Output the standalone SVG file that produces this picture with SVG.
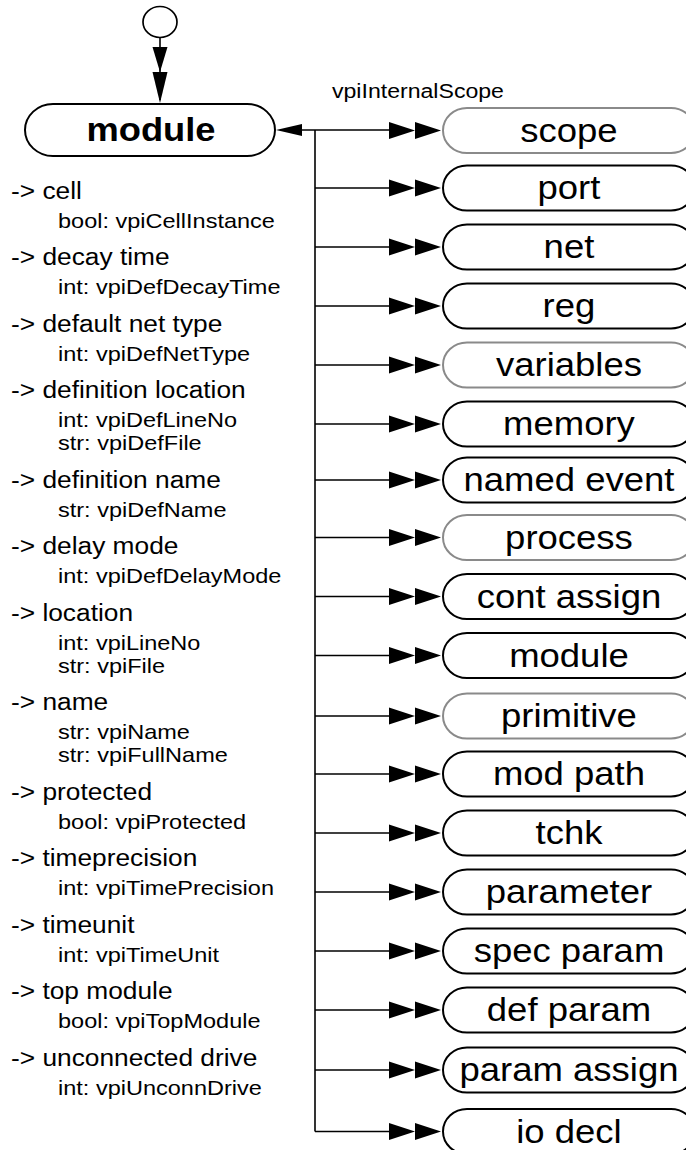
<svg xmlns="http://www.w3.org/2000/svg" width="686" height="1150" viewBox="0 0 686 1150">
<style>
  .box{fill:#fff;stroke:#000;stroke-width:2}
  .gray{stroke:#8a8a8a}
  .nt{font-family:"Liberation Sans",Arial,sans-serif;font-size:33.5px;text-anchor:middle;fill:#000}
  .mt{font-family:"Liberation Sans",Arial,sans-serif;font-size:33px;font-weight:bold;text-anchor:middle;fill:#000}
  .a{font-family:"Liberation Sans",Arial,sans-serif;font-size:23.5px;fill:#000}
  .s{font-family:"Liberation Sans",Arial,sans-serif;font-size:21px;fill:#000}
  .ln{fill:none;stroke:#000;stroke-width:1.6}
  .ah{fill:#000;stroke:none}
</style>
<defs>
  <g id="dbl">
    <polygon points="-54,-8.5 -28,0 -54,8.5"/>
    <polygon points="-28,-8.5 -2,0 -28,8.5"/>
  </g>
</defs>

<g id="start">
  <ellipse cx="160" cy="22" rx="17" ry="15.5" fill="#fff" stroke="#000" stroke-width="1.7"/>
</g>

<g id="connectors">
  <line class="ln" x1="160" y1="37.5" x2="160" y2="100"/>
  <polygon class="ah" points="152.5,47 167.5,47 160,72"/>
  <polygon class="ah" points="152.5,72 167.5,72 160,103"/>
  <polygon class="ah" points="276,130 302,124 302,136"/>
  <polyline class="ln" points="302,130 392,130"/>
  <line class="ln" x1="315" y1="130" x2="315" y2="1131.5"/>
  <g class="ah">
    <use href="#dbl" x="443" y="130.5"/>
    <use href="#dbl" x="443" y="188"/>
    <use href="#dbl" x="443" y="247"/>
    <use href="#dbl" x="443" y="306"/>
    <use href="#dbl" x="443" y="365"/>
    <use href="#dbl" x="443" y="424"/>
    <use href="#dbl" x="443" y="480"/>
    <use href="#dbl" x="443" y="537.5"/>
    <use href="#dbl" x="443" y="596.5"/>
    <use href="#dbl" x="443" y="655.5"/>
    <use href="#dbl" x="443" y="716"/>
    <use href="#dbl" x="443" y="774"/>
    <use href="#dbl" x="443" y="833"/>
    <use href="#dbl" x="443" y="892"/>
    <use href="#dbl" x="443" y="951"/>
    <use href="#dbl" x="443" y="1010"/>
    <use href="#dbl" x="443" y="1070"/>
    <use href="#dbl" x="443" y="1131.5"/>
  </g>
  <g class="ln">
    <line x1="315" y1="188" x2="392" y2="188"/>
    <line x1="315" y1="247" x2="392" y2="247"/>
    <line x1="315" y1="306" x2="392" y2="306"/>
    <line x1="315" y1="365" x2="392" y2="365"/>
    <line x1="315" y1="424" x2="392" y2="424"/>
    <line x1="315" y1="480" x2="392" y2="480"/>
    <line x1="315" y1="537.5" x2="392" y2="537.5"/>
    <line x1="315" y1="596.5" x2="392" y2="596.5"/>
    <line x1="315" y1="655.5" x2="392" y2="655.5"/>
    <line x1="315" y1="716" x2="392" y2="716"/>
    <line x1="315" y1="774" x2="392" y2="774"/>
    <line x1="315" y1="833" x2="392" y2="833"/>
    <line x1="315" y1="892" x2="392" y2="892"/>
    <line x1="315" y1="951" x2="392" y2="951"/>
    <line x1="315" y1="1010" x2="392" y2="1010"/>
    <line x1="315" y1="1070" x2="392" y2="1070"/>
    <line x1="315" y1="1131.5" x2="392" y2="1131.5"/>
  </g>
  <text class="s" transform="scale(1.1,1)" x="301.8" y="98">vpiInternalScope</text>
</g>

<g id="module-main">
  <rect class="box" x="25" y="104" width="250" height="52" rx="28" ry="26"/>
  <text class="mt" transform="scale(1.1,1)" x="137.3" y="141.5">module</text>
</g>

<g id="module-attrs" transform="scale(1.12,1)">
  <text class="a" x="9.8" y="199">-&gt; cell</text>
  <text class="s" x="51.8" y="228">bool: vpiCellInstance</text>
  <text class="a" x="9.8" y="265.5">-&gt; decay time</text>
  <text class="s" x="51.8" y="294.5">int: vpiDefDecayTime</text>
  <text class="a" x="9.8" y="332">-&gt; default net type</text>
  <text class="s" x="51.8" y="361">int: vpiDefNetType</text>
  <text class="a" x="9.8" y="398.5">-&gt; definition location</text>
  <text class="s" x="51.8" y="427.5">int: vpiDefLineNo</text>
  <text class="s" x="51.8" y="450.5">str: vpiDefFile</text>
  <text class="a" x="9.8" y="488">-&gt; definition name</text>
  <text class="s" x="51.8" y="517">str: vpiDefName</text>
  <text class="a" x="9.8" y="554.5">-&gt; delay mode</text>
  <text class="s" x="51.8" y="583.5">int: vpiDefDelayMode</text>
  <text class="a" x="9.8" y="621">-&gt; location</text>
  <text class="s" x="51.8" y="650">int: vpiLineNo</text>
  <text class="s" x="51.8" y="673">str: vpiFile</text>
  <text class="a" x="9.8" y="710.5">-&gt; name</text>
  <text class="s" x="51.8" y="739.5">str: vpiName</text>
  <text class="s" x="51.8" y="762.5">str: vpiFullName</text>
  <text class="a" x="9.8" y="800">-&gt; protected</text>
  <text class="s" x="51.8" y="829">bool: vpiProtected</text>
  <text class="a" x="9.8" y="866.5">-&gt; timeprecision</text>
  <text class="s" x="51.8" y="895.5">int: vpiTimePrecision</text>
  <text class="a" x="9.8" y="933">-&gt; timeunit</text>
  <text class="s" x="51.8" y="962">int: vpiTimeUnit</text>
  <text class="a" x="9.8" y="999.5">-&gt; top module</text>
  <text class="s" x="51.8" y="1028.5">bool: vpiTopModule</text>
  <text class="a" x="9.8" y="1066">-&gt; unconnected drive</text>
  <text class="s" x="51.8" y="1095">int: vpiUnconnDrive</text>
</g>

<g id="scope"><rect class="box gray" x="443" y="108" width="252" height="45" rx="24" ry="22.5"/><text class="nt" transform="scale(1.09,1)" x="522" y="142">scope</text></g>
<g id="port"><rect class="box" x="443" y="165.5" width="252" height="45" rx="24" ry="22.5"/><text class="nt" transform="scale(1.09,1)" x="522" y="199.5">port</text></g>
<g id="net"><rect class="box" x="443" y="224.5" width="252" height="45" rx="24" ry="22.5"/><text class="nt" transform="scale(1.09,1)" x="522" y="258.5">net</text></g>
<g id="reg"><rect class="box" x="443" y="283.5" width="252" height="45" rx="24" ry="22.5"/><text class="nt" transform="scale(1.09,1)" x="522" y="317.5">reg</text></g>
<g id="variables"><rect class="box gray" x="443" y="342.5" width="252" height="45" rx="24" ry="22.5"/><text class="nt" transform="scale(1.09,1)" x="522" y="376.5">variables</text></g>
<g id="memory"><rect class="box" x="443" y="401.5" width="252" height="45" rx="24" ry="22.5"/><text class="nt" transform="scale(1.09,1)" x="522" y="435.5">memory</text></g>
<g id="named-event"><rect class="box" x="443" y="457.5" width="252" height="45" rx="24" ry="22.5"/><text class="nt" transform="scale(1.09,1)" x="522" y="491.5">named event</text></g>
<g id="process"><rect class="box gray" x="443" y="515" width="252" height="45" rx="24" ry="22.5"/><text class="nt" transform="scale(1.09,1)" x="522" y="549">process</text></g>
<g id="cont-assign"><rect class="box" x="443" y="574" width="252" height="45" rx="24" ry="22.5"/><text class="nt" transform="scale(1.09,1)" x="522" y="608">cont assign</text></g>
<g id="module"><rect class="box" x="443" y="633" width="252" height="45" rx="24" ry="22.5"/><text class="nt" transform="scale(1.09,1)" x="522" y="667">module</text></g>
<g id="primitive"><rect class="box gray" x="443" y="693.5" width="252" height="45" rx="24" ry="22.5"/><text class="nt" transform="scale(1.09,1)" x="522" y="727.5">primitive</text></g>
<g id="mod-path"><rect class="box" x="443" y="751.5" width="252" height="45" rx="24" ry="22.5"/><text class="nt" transform="scale(1.09,1)" x="522" y="785.5">mod path</text></g>
<g id="tchk"><rect class="box" x="443" y="810.5" width="252" height="45" rx="24" ry="22.5"/><text class="nt" transform="scale(1.09,1)" x="522" y="844.5">tchk</text></g>
<g id="parameter"><rect class="box" x="443" y="869.5" width="252" height="45" rx="24" ry="22.5"/><text class="nt" transform="scale(1.09,1)" x="522" y="903.5">parameter</text></g>
<g id="spec-param"><rect class="box" x="443" y="928.5" width="252" height="45" rx="24" ry="22.5"/><text class="nt" transform="scale(1.09,1)" x="522" y="962.5">spec param</text></g>
<g id="def-param"><rect class="box" x="443" y="987.5" width="252" height="45" rx="24" ry="22.5"/><text class="nt" transform="scale(1.09,1)" x="522" y="1021.5">def param</text></g>
<g id="param-assign"><rect class="box" x="443" y="1047.5" width="252" height="45" rx="24" ry="22.5"/><text class="nt" transform="scale(1.09,1)" x="522" y="1081.5">param assign</text></g>
<g id="io-decl"><rect class="box" x="443" y="1109" width="252" height="45" rx="24" ry="22.5"/><text class="nt" transform="scale(1.09,1)" x="522" y="1143">io decl</text></g>
</svg>
